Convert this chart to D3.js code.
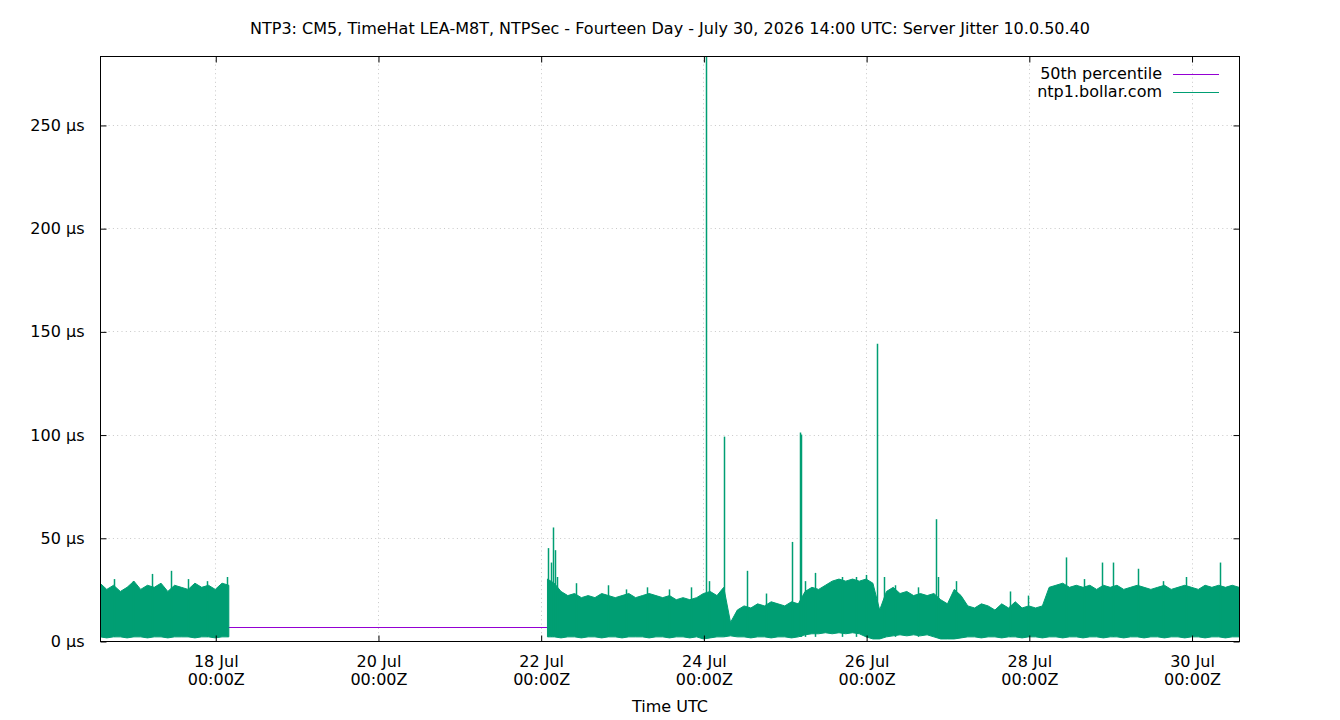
<!DOCTYPE html>
<html>
<head>
<meta charset="utf-8">
<script src="https://cdn.jsdelivr.net/npm/d3@7"></script>
<style>
  body { margin: 0; background: #fff; }
  text { font-family: "DejaVu Sans", sans-serif; }
</style>
</head>
<body>
<script>
// window of the chart: fourteen days ending July 30, 2026 14:00 UTC
var t0 = Date.UTC(2026, 6, 16, 14, 0);
var t1 = Date.UTC(2026, 6, 30, 14, 0);
var stepHours = 2;

var yTicks = [0, 50, 100, 150, 200, 250];
var xTickDays = [18, 20, 22, 24, 26, 28, 30];

var percentile50 = 6.6;

// dense jitter band, envelope read every 2 hours (hours after t0)
var seg1Start = 0;
var seg1High = [28, 25, 27, 24, 26, 29, 25, 27, 26, 28, 24, 27, 26, 25, 28, 26, 27, 25, 28, 27];
var seg1Low  = [2, 1.5, 2, 2, 1.5, 2, 2, 1.5, 2, 2, 1.5, 2, 2, 2, 1.5, 2, 2, 1.5, 2, 2];

var seg2Start = 132;
var seg2High = [
  30, 28, 24, 22, 23, 21, 22, 21, 23, 22,   // 132-150
  21, 22, 23, 21, 22, 23, 22, 21, 22, 20,   // 152-170
  21, 20, 21, 23, 24, 22, 26, 9, 15, 17,    // 172-190
  16, 18, 17, 19, 18, 17, 19, 18, 24, 26,   // 192-210
  25, 27, 29, 30, 29, 30, 29, 30, 28, 15,   // 212-230
  24, 26, 23, 24, 22, 23, 22, 23, 20, 18,   // 232-250
  25, 22, 17, 16, 18, 17, 15, 18, 16, 19,   // 252-270
  16, 17, 16, 17, 26, 27, 28, 26, 27, 26,   // 272-290
  27, 25, 27, 26, 27, 25, 26, 27, 26, 25,   // 292-310
  26, 27, 25, 26, 27, 26, 25, 27, 26, 27,   // 312-330
  26, 27, 26                                // 332-336
];
var seg2Low = [
  2, 2, 1.5, 2, 2, 1.5, 2, 2, 1.5, 2,
  2, 1.5, 2, 2, 2, 1.5, 2, 2, 1.5, 2,
  2, 1.5, 2, 1, 1.5, 2, 2, 2.5, 2, 2,
  1.5, 2, 2, 1.5, 2, 2, 1.5, 2, 3, 3.5,
  3.5, 4, 3.5, 4, 3.5, 4, 3.5, 2, 1, 1,
  2, 2.5, 3, 2.5, 3, 2.5, 3, 2, 1, 1,
  1, 1.5, 2, 2, 1.5, 2, 2, 1.5, 2, 2,
  1.5, 2, 2, 1.5, 2, 2, 1.5, 2, 2, 1.5,
  2, 2, 1.5, 2, 2, 1.5, 2, 2, 1.5, 2,
  2, 1.5, 2, 2, 1.5, 2, 2, 1.5, 2, 2,
  1.5, 2, 2
];

// isolated spikes: hours after t0, peak in µs
var spikeHours = [4.2, 9.8, 15.3, 21, 26, 31.5, 37.5,
  132.2, 133.0, 133.6, 134.2, 134.8, 140.4, 149.9, 155.2, 161.3, 167.8, 174.4,
  178.8, 179.7, 184.1, 190.9, 196.5, 204.1, 206.5, 206.8, 208, 211, 219, 223.1, 226,
  229.2, 231.3, 234.4, 241.2, 246.6, 247.2, 252.5, 268.4, 273.8,
  285, 290.3, 295.6, 298.8, 306.2, 313.6, 320.5, 330.4];
var spikeValues = [30, 29, 32.5, 34, 30, 29, 31,
  45, 38, 55, 44, 31, 28, 27, 25, 26, 25, 26,
  320, 29, 99, 34, 23, 48, 101, 100, 29, 33, 31, 31, 32,
  144, 31, 27, 26, 59, 31, 29, 24, 22,
  40.5, 30, 38, 38, 35, 29, 31, 38];

var W = 1340, H = 720;
var mLeft = 100, mRight = 1239, mTop = 56, mBottom = 641;
var fontSize = 16;

var svg = d3.select("body").append("svg")
    .attr("width", W)
    .attr("height", H);

var x = d3.scaleUtc().domain([t0, t1]).range([mLeft, mRight]);
var y = d3.scaleLinear().domain([0, 283.4]).range([mBottom, mTop]);

function hx(h) { return x(t0 + h * 3600000); }

svg.append("defs").append("clipPath").attr("id", "plot")
  .append("rect")
    .attr("x", mLeft).attr("y", mTop)
    .attr("width", mRight - mLeft).attr("height", mBottom - mTop);

// grid
var grid = svg.append("g")
    .attr("stroke", "#c8c8c8")
    .attr("stroke-dasharray", "1,3.3");
yTicks.slice(1).forEach(function(v) {
  grid.append("line")
    .attr("x1", mLeft).attr("x2", mRight)
    .attr("y1", Math.round(y(v)) + 0.5).attr("y2", Math.round(y(v)) + 0.5);
});
xTickDays.forEach(function(d) {
  var px = Math.round(x(Date.UTC(2026, 6, d))) + 0.5;
  grid.append("line")
    .attr("x1", px).attr("x2", px)
    .attr("y1", mTop).attr("y2", mBottom);
});

var plot = svg.append("g").attr("clip-path", "url(#plot)");

// 50th percentile
plot.append("line")
    .attr("x1", mLeft).attr("x2", mRight)
    .attr("y1", Math.round(y(percentile50)) + 0.5).attr("y2", Math.round(y(percentile50)) + 0.5)
    .attr("stroke", "#9400d3")
    .attr("stroke-width", 1);

var green = "#009e73";

function band(start, high, low) {
  return high.map(function(v, i) {
    return {h: start + i * stepHours, hi: v, lo: low[i]};
  });
}

var area = d3.area()
    .x(function(d) { return hx(d.h); })
    .y0(function(d) { return y(d.lo); })
    .y1(function(d) { return y(d.hi); });

[band(seg1Start, seg1High, seg1Low), band(seg2Start, seg2High, seg2Low)].forEach(function(pts) {
  plot.append("path")
      .datum(pts)
      .attr("d", area)
      .attr("fill", green)
      .attr("stroke", green)
      .attr("stroke-width", 1);
});

plot.selectAll("line.spike")
  .data(spikeHours)
  .enter()
  .append("line")
    .attr("class", "spike")
    .attr("x1", function(d) { return Math.round(hx(d)) + 0.5; })
    .attr("x2", function(d) { return Math.round(hx(d)) + 0.5; })
    .attr("y1", y(2))
    .attr("y2", function(d, i) { return y(spikeValues[i]); })
    .attr("stroke", green)
    .attr("stroke-width", 1.5);

// axes, ticks drawn inward like gnuplot, mirrored
var yAxis = d3.axisLeft(y).tickValues(yTicks).tickSize(-6).tickPadding(16)
    .tickFormat(function(d) { return d + " µs"; });
var gy = svg.append("g").attr("transform", "translate(" + (mLeft + 0.5) + ",0.5)").call(yAxis);
gy.select(".domain").remove();
gy.selectAll("text").attr("font-size", fontSize).attr("font-family", "DejaVu Sans").attr("fill", "#000");

var gyr = svg.append("g").attr("transform", "translate(" + (mRight + 0.5) + ",0.5)")
    .call(d3.axisRight(y).tickValues(yTicks).tickSize(-6).tickFormat(""));
gyr.select(".domain").remove();

var xVals = xTickDays.map(function(d) { return Date.UTC(2026, 6, d); });
var gx = svg.append("g").attr("transform", "translate(0.5," + (mBottom + 0.5) + ")")
    .call(d3.axisBottom(x).tickValues(xVals).tickSize(-6).tickFormat(""));
gx.select(".domain").remove();
gx.selectAll(".tick").append("text")
    .attr("fill", "#000")
    .attr("font-size", fontSize)
    .attr("font-family", "DejaVu Sans")
    .attr("text-anchor", "middle")
    .each(function(d) {
      var t = d3.select(this);
      t.append("tspan").attr("x", 0).attr("y", 25).text(d3.utcFormat("%-d %b")(d));
      t.append("tspan").attr("x", 0).attr("y", 43).text("00:00Z");
    });

var gxt = svg.append("g").attr("transform", "translate(0.5," + (mTop + 0.5) + ")")
    .call(d3.axisTop(x).tickValues(xVals).tickSize(-6).tickFormat(""));
gxt.select(".domain").remove();

svg.selectAll(".tick line").attr("stroke", "#000");

// frame
svg.append("rect")
    .attr("x", mLeft + 0.5).attr("y", mTop + 0.5)
    .attr("width", mRight - mLeft).attr("height", mBottom - mTop)
    .attr("fill", "none")
    .attr("stroke", "#000");

// title and axis label
svg.append("text")
    .attr("x", 670).attr("y", 34)
    .attr("text-anchor", "middle")
    .attr("font-size", fontSize)
    .text("NTP3: CM5, TimeHat LEA-M8T, NTPSec - Fourteen Day - July 30, 2026 14:00 UTC: Server Jitter 10.0.50.40");

svg.append("text")
    .attr("x", 670).attr("y", 712)
    .attr("text-anchor", "middle")
    .attr("font-size", fontSize)
    .text("Time UTC");

// legend
var legend = [["50th percentile", "#9400d3"], ["ntp1.bollar.com", green]];
legend.forEach(function(l, i) {
  var ly = 74 + i * 18;
  svg.append("text")
      .attr("x", 1162).attr("y", ly + 5)
      .attr("text-anchor", "end")
      .attr("font-size", fontSize)
      .text(l[0]);
  svg.append("line")
      .attr("x1", 1173).attr("x2", 1219)
      .attr("y1", ly + 0.5).attr("y2", ly + 0.5)
      .attr("stroke", l[1]);
});
</script>
</body>
</html>
